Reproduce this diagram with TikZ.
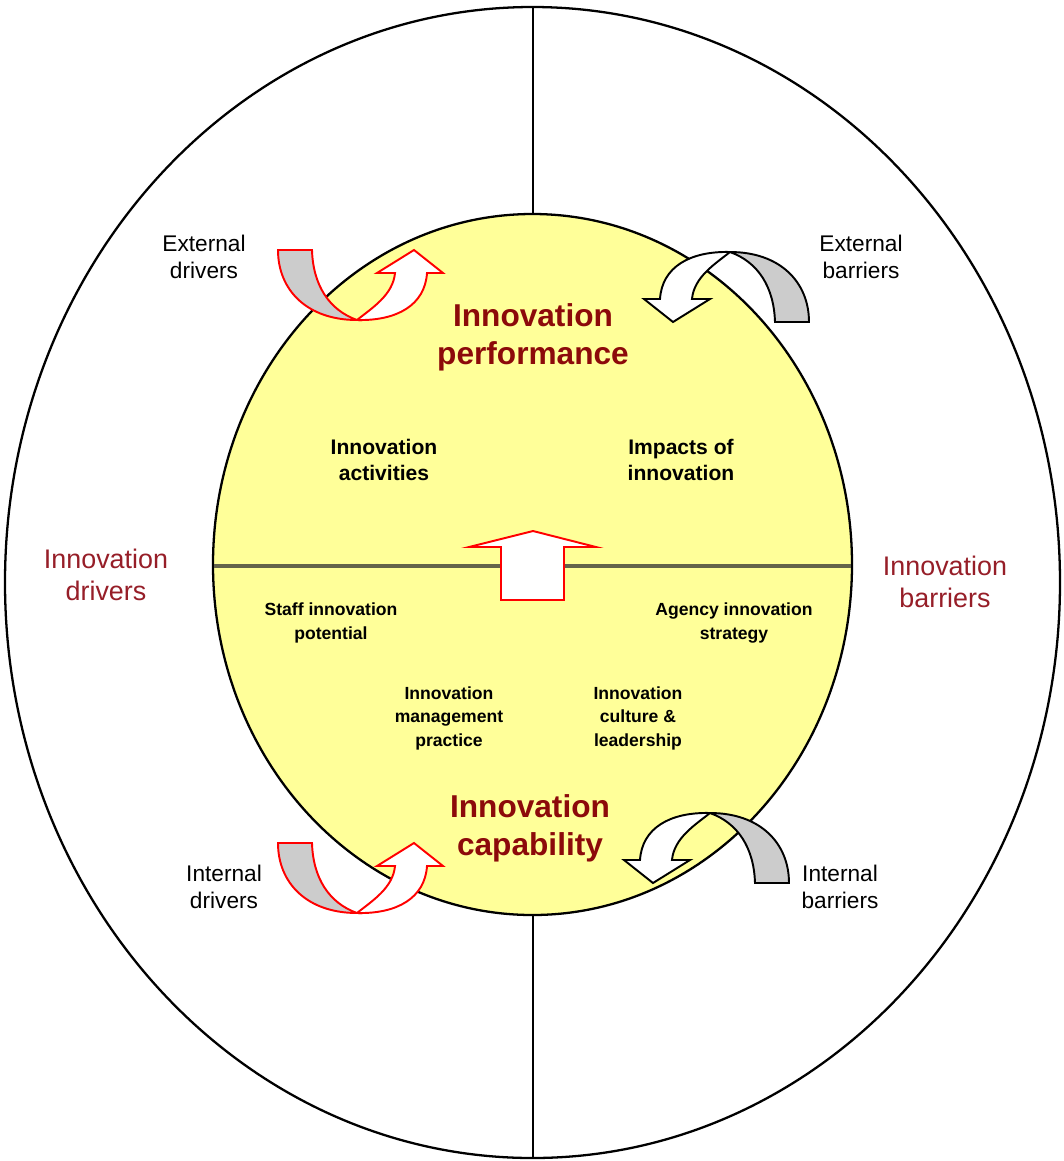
\documentclass[tikz,border=0pt]{standalone}
\usepackage{fontspec}
\setmainfont{Liberation Sans}
\definecolor{titlered}{RGB}{140,10,10}
\definecolor{sidered}{RGB}{150,30,40}
\definecolor{capfill}{RGB}{255,255,153}
\definecolor{midline}{RGB}{100,100,75}

\begin{document}
\begin{tikzpicture}[x=0.02cm, y=-0.02cm,
    perftext/.style={font=\bfseries\fontsize{18}{21.6}\selectfont, text=titlered, align=center, inner sep=0},
    sidetext/.style={font=\fontsize{15.3}{17.8}\selectfont, text=sidered, align=center, inner sep=0},
    outertext/.style={font=\fontsize{12.9}{15.4}\selectfont, align=center, inner sep=0},
    innertext/.style={font=\bfseries\fontsize{12}{14.8}\selectfont, align=center, inner sep=0},
    smalltext/.style={font=\bfseries\fontsize{10}{13.4}\selectfont, align=center, inner sep=0},
    uturn/.pic={
      \draw [pic actions, fill=gray!40] (-79,-70) -- (-45,-70)
        .. controls (-44,-35) and (-28,-10) .. (0,0)
        .. controls (-50,0) and (-79,-30) .. (-79,-70) -- cycle;
      \draw [pic actions, fill=white] (0,0)
        .. controls (15,-12) and (36,-25) .. (38,-47)
        -- (20,-47) -- (57,-70) -- (86,-47) -- (70,-47)
        .. controls (68,-15) and (40,1) .. (0,0) -- cycle;
    }]
      \useasboundingbox (0,0) rectangle (1064,1161);

      % outer ring and the split line
      \draw [line width=1.3pt] (532.5,582.5) ellipse [x radius=527.5, y radius=575.5];
      \draw [line width=0.9pt] (533,7) -- (533,1158);

      % capability / performance disc
      \draw [line width=1.3pt, fill=capfill] (532.5,564.5) ellipse [x radius=319.5, y radius=350.5];
      \draw [line width=1.8pt, midline] (214,566) -- (851,566);

      % up arrow from capability to performance
      \draw [red, line width=1.1pt, fill=white] (533,531) -- (596,547) -- (564,547) -- (564,600)
        -- (501,600) -- (501,547) -- (469,547) -- cycle;

      \draw (533, 337) node (perf) [perftext] {Innovation\\performance};
      \draw (530, 828) node (capab) [perftext] {Innovation\\capability};

      \draw (384, 460) node (activ) [innertext] {Innovation\\activities};
      \draw (681, 460) node (impact) [innertext] {Impacts of\\innovation};

      \draw (331, 623) node (staff) [smalltext] {Staff innovation\\potential};
      \draw (734, 623) node (agency) [smalltext] {Agency innovation\\strategy};
      \draw (449, 718) node (manage) [smalltext] {Innovation\\management\\practice};
      \draw (638, 718) node (culture) [smalltext] {Innovation\\culture \&\\leadership};

      \draw (106, 575) node (drivers) [sidetext] {Innovation\\drivers};
      \draw (945, 582) node (barriers) [sidetext] {Innovation\\barriers};

      \draw (204, 257) node (extdriv) [outertext] {External\\drivers};
      \draw (861, 257) node (extbarr) [outertext] {External\\barriers};
      \draw (224, 887) node (intdriv) [outertext] {Internal\\drivers};
      \draw (840, 887) node (intbarr) [outertext] {Internal\\barriers};

      % turning arrows
      \pic [draw=red, line width=1.1pt] at (357,320) {uturn};
      \pic [draw=red, line width=1.1pt] at (357,913) {uturn};
      \pic [draw=black, line width=1.1pt, rotate=180] at (730,252) {uturn};
      \pic [draw=black, line width=1.1pt, rotate=180] at (710,813) {uturn};
    \end{tikzpicture}
\end{document}
